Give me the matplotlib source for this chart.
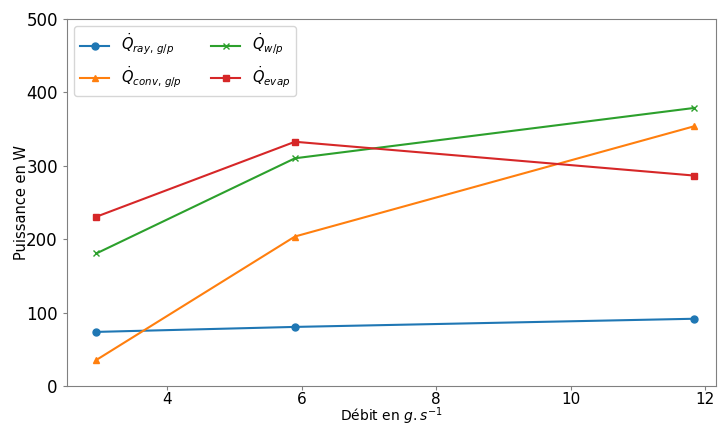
import numpy as np
import matplotlib
matplotlib.use("Agg")
import matplotlib.pyplot as plt

debit = [2.95, 5.9, 11.83]
q_ray = [73.6, 80.4, 91.5]
q_conv = [35.5, 203.5, 353.5]
q_wp = [180.5, 310, 378.5]
q_evap = [230.5, 332.5, 286.5]

plt.rcParams.update({"font.family": "DejaVu Sans"})
fig = plt.figure(figsize=(7.19, 4.26), dpi=100)
ax = fig.add_axes([0.093, 0.094, 0.903, 0.862])

ax.plot(debit, q_ray, "o-", color="#1f77b4", ms=5, label=r"$\dot{Q}_{ray,\,g/p}$")
ax.plot(debit, q_conv, "^-", color="#ff7f0e", ms=5, label=r"$\dot{Q}_{conv,\,g/p}$")
ax.plot(debit, q_wp, "x-", color="#2ca02c", ms=5, label=r"$\dot{Q}_{w/p}$")
ax.plot(debit, q_evap, "s-", color="#d62728", ms=5, label=r"$\dot{Q}_{evap}$")

ax.set_xlim(2.51, 12.16)
ax.set_ylim(0, 500)
ax.set_xticks([4, 6, 8, 10, 12])
ax.set_yticks([0, 100, 200, 300, 400, 500])
ax.tick_params(labelsize=12, color="gray", length=3)
ax.tick_params(axis="x", labelsize=11, pad=1)
for s in ax.spines.values():
    s.set_color("gray")
ax.set_xlabel(r"Débit en $g.s^{-1}$", fontsize=10)
ax.set_ylabel("Puissance en W", fontsize=10.5)
ax.xaxis.set_label_coords(0.5, -0.053)
ax.yaxis.set_label_coords(-0.058, 0.5)
ax.legend(ncol=2, fontsize=10.5, loc="upper left")

fig.savefig("out.png")
